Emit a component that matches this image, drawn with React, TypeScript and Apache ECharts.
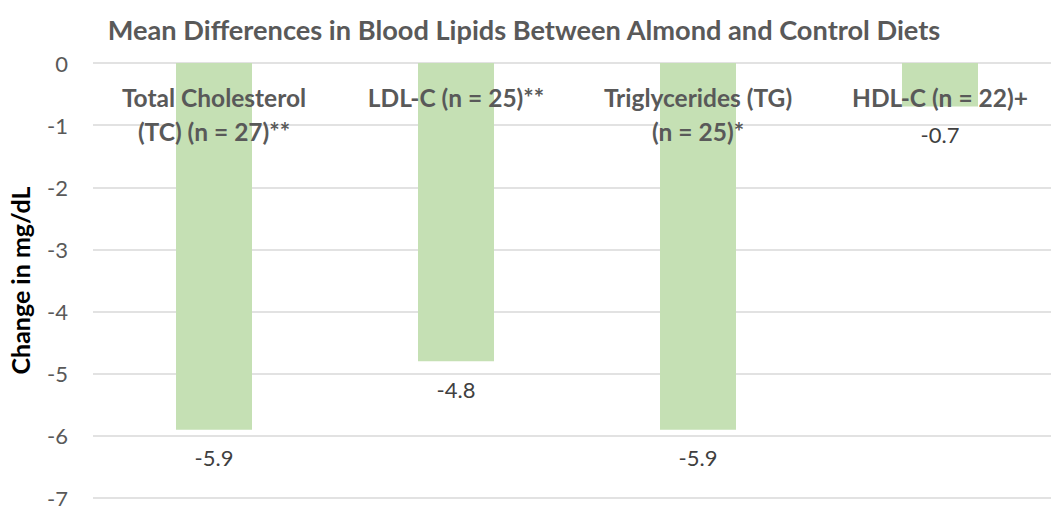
import React, { useEffect, useRef } from "react";
import * as echarts from "echarts";

const categories = [
  "Total Cholesterol\n(TC) (n = 27)**",
  "LDL-C (n = 25)**",
  "Triglycerides (TG)\n(n = 25)*",
  "HDL-C (n = 22)+",
];
const values = [-5.9, -4.8, -5.9, -0.7];
const titleText = "Mean Differences in Blood Lipids Between Almond and Control Diets";
const yAxisName = "Change in mg/dL";

const FONT = "Lato, 'Noto Sans', sans-serif";

export default function App() {
  const ref = useRef<HTMLDivElement>(null);
  useEffect(() => {
    if (!ref.current) return;
    const chart = echarts.init(ref.current, null, { renderer: "svg" });
    chart.setOption({
      animation: false,
      backgroundColor: "#ffffff",
      textStyle: { fontFamily: FONT },
      title: {
        text: titleText,
        left: 519,
        textAlign: "center",
        top: 11,
        textStyle: { fontFamily: FONT, fontSize: 27.2, fontWeight: "bold", color: "#595959" },
      },
      grid: { left: 93, right: 0, top: 63, bottom: 8, containLabel: false, outerBoundsMode: "none" },
      xAxis: {
        type: "category",
        data: categories,
        position: "top",
        axisLine: { show: false },
        axisTick: { show: false },
        splitLine: { show: false },
        axisLabel: {
          inside: true,
          interval: 0,
          margin: 17,
          fontFamily: FONT,
          fontSize: 24.5,
          fontWeight: "bold",
          lineHeight: 34,
          color: "#595959",
          align: "center",
        },
        z: 10,
      },
      yAxis: {
        type: "value",
        min: -7,
        max: 0,
        interval: 1,
        name: yAxisName,
        nameLocation: "middle",
        nameGap: 61,
        nameRotate: 90,
        nameTextStyle: { fontFamily: FONT, fontSize: 25, fontWeight: "bold", color: "#000000" },
        axisLine: { show: false },
        axisTick: { show: false },
        axisLabel: { fontFamily: FONT, fontSize: 22, color: "#595959", margin: 25 },
        splitLine: { lineStyle: { color: "#d9d9d9", width: 1.5 } },
      },
      series: [
        {
          type: "bar",
          data: values,
          barWidth: 76,
          itemStyle: { color: "#c5e0b4" },
          label: {
            show: true,
            position: "bottom",
            distance: 17,
            fontFamily: FONT,
            fontSize: 22,
            color: "#404040",
          },
          z: 2,
        },
      ],
    });
    return () => chart.dispose();
  }, []);
  return (
    <div style={{ position: "fixed", left: 0, top: 0, width: 1051, height: 506, overflow: "hidden", background: "#fff" }}>
      <div ref={ref} style={{ width: 1061, height: 506 }} />
    </div>
  );
}
